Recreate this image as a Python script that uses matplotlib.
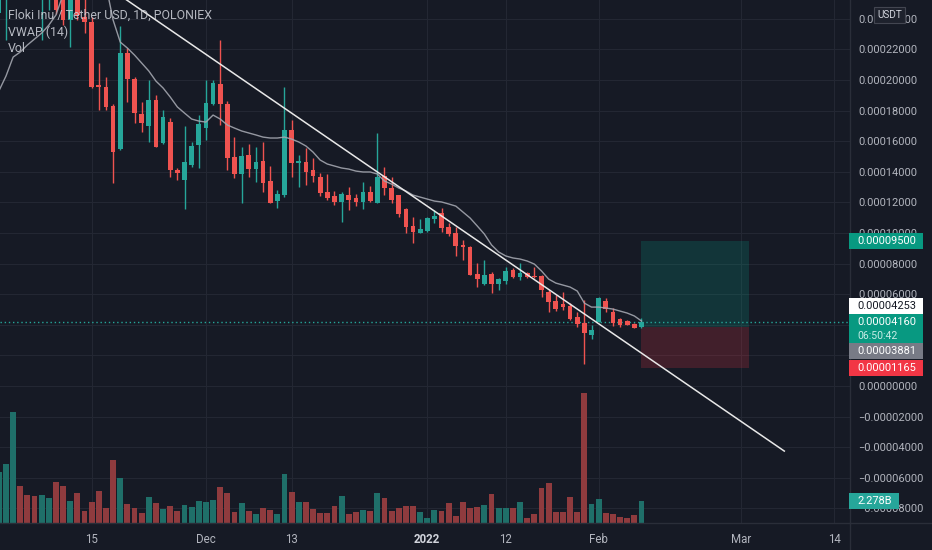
import numpy as np
import matplotlib
matplotlib.use("Agg")
import matplotlib.pyplot as plt
from matplotlib.patches import Rectangle
from matplotlib.lines import Line2D
from matplotlib.ticker import FuncFormatter

plt.rcParams['font.family'] = ['Roboto', 'DejaVu Sans']

# FLOKI/USDT daily candles, prices in micro-USDT (1e-6)
opens = [243.8, 255, 268, 300, 285, 275, 262, 265, 270, 255,
         239.2, 256, 241.2, 237.9, 196.7, 195.4, 183.0, 154.9, 217.6, 200.7,
         177.8, 169.9, 186.9, 158.8, 172.5, 141.2, 134.6, 144.4, 157.5, 168.6,
         184.3, 197.4, 184.3, 149.7, 138.6, 151.0, 141.8, 147.1, 134.0, 120.9,
         124.8, 167.3, 145.8, 146.4, 141.2, 136.6, 126.8, 124.2, 120.3, 124.8,
         122.9, 120.3, 126.8, 119.6, 137.3, 129.4, 124.8, 115.7, 104.6, 100.0,
         101.3, 109.2, 113.1, 103.9, 100.0, 92.2, 90.8, 73.2, 66.7, 73.2,
         66.7, 68.6, 75.8, 71.2, 73.9, 71.9, 71.9, 61.4, 55.6, 53.6,
         52.3, 45.1, 41.2, 33.3, 41.8, 55.6, 48.4, 43.8, 42.5, 40.5,
         38.6]
highs = [270, 280, 310, 310, 292, 285, 280, 282, 278, 268,
         262, 262, 253, 241, 211.1, 202.0, 184.5, 235.3, 220.9, 202.0,
         185.6, 200.0, 190.2, 180.4, 175.2, 142.5, 169.9, 159.5, 177.1, 200.0,
         200.0, 226.1, 186.3, 162.7, 156.2, 158.2, 156.2, 159.5, 143.8, 128.1,
         195.4, 173.9, 151.0, 155.6, 149.0, 139.2, 138.6, 127.5, 126.8, 130.1,
         125.5, 133.3, 130.7, 165.4, 143.1, 136.6, 124.8, 116.3, 110.5, 109.2,
         110.5, 115.0, 116.3, 106.5, 103.9, 95.4, 91.5, 80.4, 82.4, 74.5,
         70.6, 77.8, 77.1, 80.4, 74.5, 77.8, 72.5, 62.7, 59.5, 61.4,
         54.2, 48.4, 56.2, 39.9, 58.2, 57.5, 51.0, 44.4, 43.1, 41.2,
         44.4]
lows = [240, 226.1, 262, 275, 268, 262, 226.1, 245.8, 243, 236,
        221.6, 239.2, 230.7, 195.0, 180.4, 180.4, 132.7, 154.2, 185.6, 171.9,
        166.0, 159.5, 156.2, 158.2, 136.6, 134.6, 115.7, 143.1, 142.5, 160.8,
        183.7, 170.6, 141.2, 135.9, 119.6, 136.6, 133.3, 126.8, 119.6, 116.3,
        123.5, 136.6, 130.1, 131.4, 133.3, 124.2, 121.6, 118.3, 107.2, 115.0,
        117.6, 115.7, 120.3, 119.6, 124.8, 119.6, 110.5, 100.0, 93.5, 100.0,
        100.7, 106.5, 100.7, 98.0, 85.0, 82.4, 72.5, 64.7, 66.0, 60.8,
        62.7, 66.7, 70.6, 69.3, 70.6, 70.6, 58.2, 48.4, 49.0, 49.7,
        43.1, 38.6, 14.4, 30.7, 41.8, 48.4, 39.2, 38.6, 39.9, 37.9,
        37.9]
closes = [265, 270, 300, 285, 275, 270, 272, 275, 245.8, 239.2,
          255, 242.5, 237.9, 195.4, 195.4, 182.4, 152.9, 217.6, 200.7, 178.4,
          171.9, 186.9, 156.2, 175.8, 141.2, 139.2, 146.4, 156.9, 171.2, 185.0,
          198.0, 184.3, 149.0, 138.6, 150.3, 141.8, 146.4, 132.7, 119.6, 125.5,
          167.3, 145.8, 147.1, 139.9, 137.3, 126.1, 122.9, 120.3, 125.5, 121.6,
          120.3, 126.8, 120.9, 136.6, 129.4, 121.6, 112.4, 103.9, 100.7, 102.6,
          109.8, 111.1, 103.3, 99.3, 91.5, 90.8, 72.5, 69.9, 72.5, 66.7,
          69.9, 75.2, 71.2, 73.9, 71.2, 71.2, 62.7, 54.9, 50.3, 51.6,
          43.8, 40.5, 34.6, 36.6, 57.5, 50.3, 41.2, 39.9, 39.9, 37.9,
          41.6]
# volume in billions
volumes = [5.4, 6.25, 11.74, 3.86, 2.95, 2.88, 2.95, 2.67, 4.28, 3.9,
           2.28, 3.2, 1.22, 2.17, 3.33, 1.58, 6.6, 4.7, 2.04, 1.58,
           1.06, 2.78, 2.14, 1.44, 1.83, 1.22, 1.93, 1.65, 2.35, 2.25,
           2.46, 3.76, 3.17, 1.16, 2.14, 1.22, 0.91, 1.58, 1.33, 0.95,
           5.17, 3.3, 2.25, 2.25, 1.44, 1.06, 1.06, 1.75, 2.88, 0.91,
           1.19, 1.4, 1.22, 3.17, 2.67, 1.22, 1.54, 1.75, 1.83, 1.12,
           0.56, 1.33, 1.22, 2.14, 0.77, 2.25, 1.61, 1.72, 1.93, 3.06,
           1.61, 1.58, 1.54, 2.25, 0.56, 0.91, 3.65, 4.25, 1.19, 1.19,
           2.78, 1.16, 13.75, 2.04, 2.56, 1.01, 0.91, 0.66, 0.56, 0.80,
           2.278]
# VWAP (14) line, micro-USDT
vwap = [192.8, 202.6, 215.0, 218.3, 222.9, 226.8, 230.7, 235.9, 242.5, 256,
        262, 266, 268, 268, 267, 262, 239.2, 224.8, 220.9, 216.3,
        211.1, 205.9, 199.3, 194.8, 188.9, 182.4, 178.4, 174.5, 173.2, 172.5,
        177.1, 174.5, 170.6, 168.6, 166.7, 165.4, 164.1, 162.7, 162.1, 162.1,
        162.7, 161.4, 159.5, 156.9, 152.9, 147.7, 145.1, 143.8, 142.5, 141.8,
        140.5, 139.9, 139.9, 138.6, 134.0, 132.0, 129.4, 127.5, 124.8, 123.5,
        122.2, 120.9, 120.3, 119.0, 117.6, 113.7, 109.8, 104.6, 99.3, 92.2,
        87.6, 85.0, 83.7, 83.0, 81.7, 79.7, 75.2, 69.9, 67.3, 66.0,
        64.7, 62.1, 54.2, 51.6, 51.6, 51.0, 50.3, 49.0, 47.7, 45.8,
        42.5]

tick_pos = [13, 29, 41, 60, 71, 84, 104, 117]
tick_labels = ["15", "Dec", "13", "2022", "12", "Feb", "Mar", "14"]
price_ticks = np.arange(-80, 241, 20)
hidden_ticks = [20, 40]   # covered by the price tags on the right

# drawn trend line (two anchors) and long position tool
trend_x = [10, 110]
trend_y = [277.6, -42.5]
entry, target, stop = 38.81, 95.00, 11.65
pos_x = [90, 105]
vwap_last = 42.53
countdown = "06:50:42"

U = 1e-6
W, H = 932, 550
BG = '#161a25'
GRID = '#232733'
UP, DOWN = '#26a69a', '#ef5350'
TXT = '#b2b5be'

n = len(closes)
x = np.arange(n)
o, h, l, c = (np.array(a) * U for a in (opens, highs, lows, closes))
up = c >= o

fig = plt.figure(figsize=(W / 100, H / 100), dpi=100, facecolor=BG)
rect = [0, 27 / H, 850 / W, 523 / H]
axv = fig.add_axes(rect, facecolor=BG)
ax = fig.add_axes(rect, sharex=axv)
ax.patch.set_visible(False)

xlim = (0.16, 119.2)
ylim = (-89.5 * U, 252.3 * U)
axv.set_xlim(*xlim)
ax.set_ylim(*ylim)
axv.set_ylim(0, 55.2)

# grid on the bottom axes so volume sits on top of it
axv.set_xticks(tick_pos)
axv.set_xticklabels(tick_labels)
axv.grid(axis='x', color=GRID, lw=0.8)
for p in price_ticks:
    f = (p * U - ylim[0]) / (ylim[1] - ylim[0])
    axv.plot([0, 1], [f, f], transform=axv.transAxes, color=GRID, lw=0.8, zorder=0)
axv.set_yticks([])
axv.tick_params(axis='x', length=0, colors=TXT, labelsize=8.3, pad=7)
for lab in axv.get_xticklabels():
    if lab.get_text().isdigit() and len(lab.get_text()) == 4:
        lab.set_fontweight('bold')
        lab.set_color('#d1d4dc')
for s in axv.spines.values():
    s.set_visible(False)

vcol = np.where(up, '#1f6f69', '#8f3b3e')
axv.bar(x, volumes, width=0.82, color=vcol, zorder=2)


def price_fmt(v, _):
    if round(v / U) in hidden_ticks:
        return ''
    return ('\u2212' if v < -1e-12 else '') + f'{abs(v):.8f}'


# price axes
ax.tick_params(axis='x', which='both', bottom=False, labelbottom=False)
ax.yaxis.tick_right()
ax.set_yticks(price_ticks * U)
ax.yaxis.set_major_formatter(FuncFormatter(price_fmt))
ax.tick_params(axis='y', length=0, colors=TXT, labelsize=7.9, pad=6)
for s in ax.spines.values():
    s.set_visible(False)

# position tool
ax.add_patch(Rectangle((pos_x[0], entry * U), pos_x[1] - pos_x[0], (target - entry) * U,
                       facecolor='#089981', alpha=0.22, lw=0, zorder=1))
ax.add_patch(Rectangle((pos_x[0], stop * U), pos_x[1] - pos_x[0], (entry - stop) * U,
                       facecolor='#f23645', alpha=0.2, lw=0, zorder=1))

# candles
ccol = np.where(up, UP, DOWN)
ax.vlines(x, l, h, colors=ccol, lw=1, zorder=3)
body = np.maximum(np.abs(c - o), 0.35 * U)
ax.bar(x, body, bottom=np.minimum(o, c), width=0.66, color=ccol, lw=0, zorder=4)

ax.plot(x, np.array(vwap) * U, color='#a3a6af', lw=1, alpha=0.9, zorder=5)
ax.plot(trend_x, np.array(trend_y) * U, color='#e8e8e8', lw=1.1, zorder=6)
ax.axhline(closes[-1] * U, color=UP, lw=1, ls=(0, (1, 2)), zorder=2)

fig.canvas.draw()


def img_y(axes, v):
    return H - axes.transData.transform((0, v))[1]


def tag(y_top, height, text, face, tc, x0=849, width=74, size=7.9):
    fig.add_artist(Rectangle((x0 / W, 1 - (y_top + height) / H), width / W, height / H,
                             transform=fig.transFigure, facecolor=face, edgecolor='none', zorder=10))
    fig.text((x0 + 8) / W, 1 - (y_top + 8) / H, text, color=tc, fontsize=size,
             va='center', ha='left', zorder=11)


tag(img_y(ax, target * U) - 8, 16, f'{target * U:.8f}', '#089981', 'white')
gy = img_y(ax, closes[-1] * U) - 8
fig.add_artist(Rectangle((849 / W, 1 - (gy + 29) / H), 74 / W, 29 / H,
                         transform=fig.transFigure, facecolor='#089981', edgecolor='none', zorder=10))
fig.text(857 / W, 1 - (gy + 8) / H, f'{closes[-1] * U:.8f}', color='white', fontsize=7.9,
         va='center', zorder=11)
fig.text(857 / W, 1 - (gy + 21.5) / H, countdown, color='#c8ece6', fontsize=7.6,
         va='center', zorder=11)
tag(gy - 16, 16, f'{vwap_last * U:.8f}', 'white', '#131722')
tag(gy + 29, 16, f'{entry * U:.8f}', '#787b86', 'white')
tag(img_y(ax, stop * U) - 8, 16, f'{stop * U:.8f}', '#f23645', 'white')
tag(img_y(axv, volumes[-1]) - 8, 16, f'{volumes[-1]:.3f}B', '#26a69a', 'white', width=50)

# USDT unit badge
fig.add_artist(Rectangle((874 / W, 1 - 23 / H), 31 / W, 16 / H, transform=fig.transFigure,
                         facecolor='#1e222d', edgecolor='#434651', lw=0.8, zorder=10))
fig.text(889.5 / W, 1 - 15 / H, 'USDT', color='#d1d4dc', fontsize=7.2, ha='center',
         va='center', zorder=11)

# pane borders
fig.add_artist(Line2D([850 / W, 850 / W], [0, 1], color='#2a2e39', lw=1, transform=fig.transFigure))
fig.add_artist(Line2D([0, 1], [27 / H, 27 / H], color='#2a2e39', lw=1, transform=fig.transFigure))

# legend
for yy, t in [(15, 'Floki Inu / Tether USD, 1D, POLONIEX'), (32, 'VWAP (14)'), (49, 'Vol')]:
    fig.text(8 / W, 1 - yy / H, t, color='#d1d4dc', alpha=0.85, fontsize=8.9,
             va='center', ha='left', zorder=12)

fig.savefig('out.png', dpi=100, facecolor=BG)
